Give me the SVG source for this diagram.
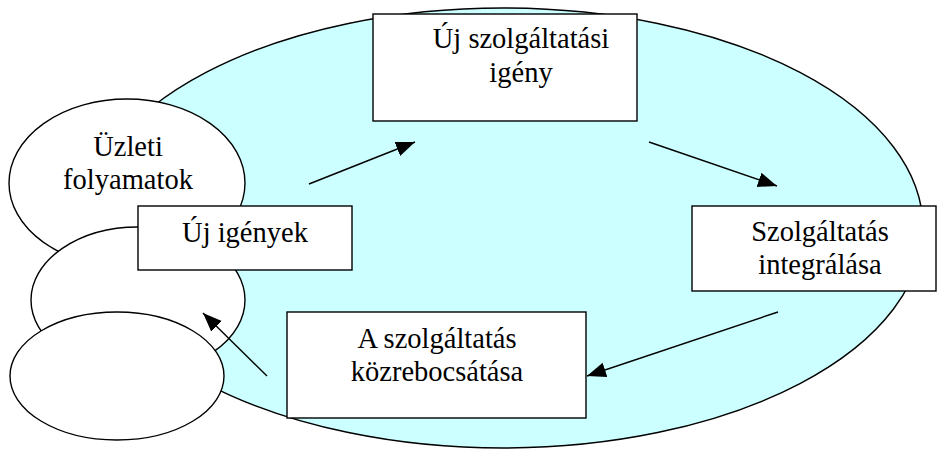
<svg xmlns="http://www.w3.org/2000/svg" width="938" height="450" viewBox="0 0 938 450">
  <style>
    .shape { fill: #ffffff; stroke: #000000; stroke-width: 1.4; }
    .area { fill: #ccffff; stroke: #000000; stroke-width: 1.4; }
    .label { font-family: 'Liberation Serif', 'Times New Roman', serif; font-size: 28.5px; fill: #000000; text-anchor: middle; }
    .link { stroke: #000000; stroke-width: 1.4; fill: none; marker-end: url(#head); }
  </style>
  <defs>
    <marker id="head" markerUnits="userSpaceOnUse" markerWidth="20" markerHeight="16" refX="19" refY="7.5" orient="auto">
      <path d="M0,0 L19,7.5 L0,15 z" fill="#000000"/>
    </marker>
  </defs>

  <!-- service cycle area -->
  <ellipse id="cycle-area" class="area" cx="503" cy="228" rx="420" ry="220"/>

  <!-- stacked business process ellipses -->
  <g id="uzleti-folyamatok">
    <ellipse class="shape" cx="127" cy="183" rx="118" ry="84"/>
    <text class="label" x="128" y="156">Üzleti</text>
    <text class="label" x="128" y="189">folyamatok</text>
  </g>
  <g id="process-2">
    <ellipse class="shape" cx="138" cy="300" rx="107" ry="73"/>
  </g>
  <g id="process-3">
    <ellipse class="shape" cx="117" cy="376" rx="107" ry="64"/>
  </g>

  <g id="uj-igenyek">
    <rect class="shape" x="138" y="206" width="214" height="64"/>
    <text class="label" x="245" y="242">Új igények</text>
  </g>

  <g id="uj-szolgaltatasi-igeny">
    <rect class="shape" x="373" y="14" width="264" height="107"/>
    <text class="label" x="521" y="48">Új szolgáltatási</text>
    <text class="label" x="521" y="82">igény</text>
  </g>

  <g id="szolgaltatas-integralasa">
    <rect class="shape" x="692" y="206" width="244" height="85"/>
    <text class="label" x="820" y="241">Szolgáltatás</text>
    <text class="label" x="820" y="274">integrálása</text>
  </g>

  <g id="kozrebocsatas">
    <rect class="shape" x="287" y="312" width="299" height="106"/>
    <text class="label" x="437" y="348">A szolgáltatás</text>
    <text class="label" x="437" y="381">közrebocsátása</text>
  </g>

  <g id="connectors">
    <line class="link" x1="309" y1="184" x2="415" y2="142"/>
    <line class="link" x1="649" y1="142" x2="777" y2="186"/>
    <line class="link" x1="778" y1="312" x2="587" y2="376"/>
    <line class="link" x1="267" y1="376" x2="203" y2="313"/>
  </g>
</svg>
